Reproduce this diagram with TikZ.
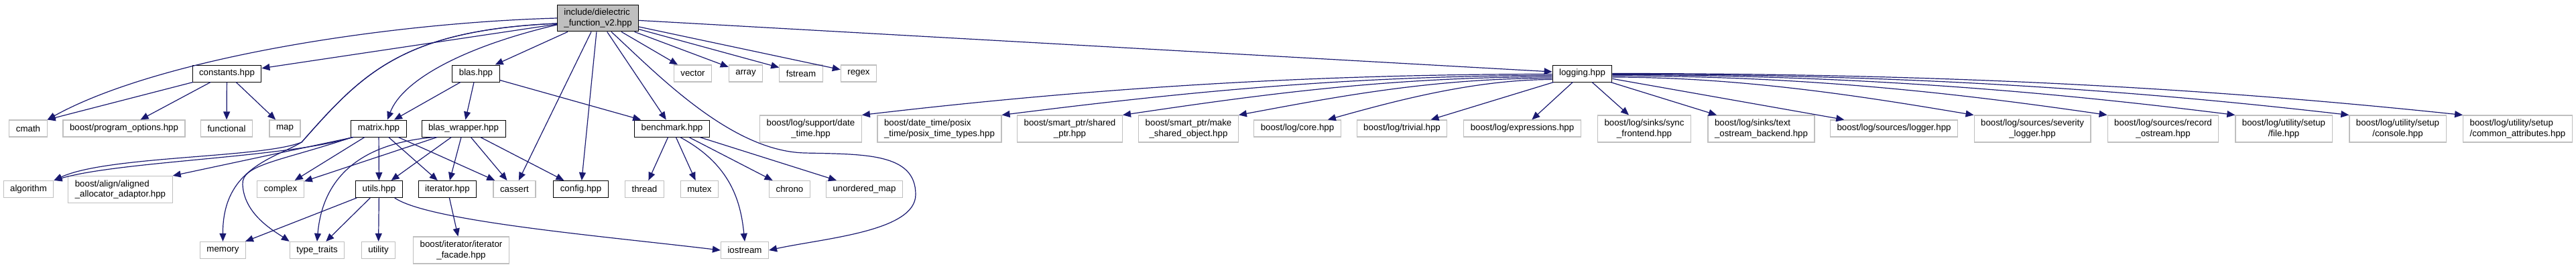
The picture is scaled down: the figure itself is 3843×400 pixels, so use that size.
\documentclass[tikz,border=0pt]{standalone}
\usepackage{fontspec}
\setmainfont{Liberation Sans}
\usepackage{tikz}
\usetikzlibrary{arrows.meta}
\definecolor{edgeblue}{HTML}{191970}
\definecolor{grey75}{HTML}{BFBFBF}

\begin{document}
\begin{tikzpicture}[
  x=1pt, y=-1pt,
  every node/.style={font=\fontsize{13.3}{15.5}\selectfont, inner xsep=10pt, inner ysep=6pt, minimum height=25pt, line width=1pt, fill=white},
  box/.style={draw=black},
  sysbox/.style={draw=grey75, line width=1.2pt},
  rootbox/.style={draw=black, fill=grey75},
  arrow/.style={-{Triangle[length=12pt,width=10pt]}, edgeblue, line width=1.2pt}
]
\useasboundingbox (0,0) rectangle (3843,400);

\node[rootbox, align=left] (root) at (892,27) {include/dielectric\\\_function\_v2.hpp};

\node[box] (constants) at (338.5,109.5) {constants.hpp};
\node[box] (blas) at (710,109.5) {blas.hpp};
\node[sysbox] (vector) at (1033.5,109.5) {vector};
\node[sysbox] (array) at (1112.5,109.5) {array};
\node[sysbox] (fstream) at (1195,109.5) {fstream};
\node[sysbox] (regex) at (1281,109.5) {regex};
\node[box] (logging) at (2360.5,109.5) {logging.hpp};

\node[sysbox] (cmath) at (42,191.5) {cmath};
\node[sysbox] (progopts) at (185,191.5) {boost/program\_options.hpp};
\node[sysbox] (functional) at (338,191.5) {functional};
\node[sysbox] (map) at (425,191.5) {map};
\node[box] (matrix) at (565,191.5) {matrix.hpp};
\node[box] (blaswrap) at (691.5,191.5) {blas\_wrapper.hpp};
\node[box] (benchmark) at (1002.5,191.5) {benchmark.hpp};
\node[sysbox, align=center] (datetime) at (1209.5,192) {boost/log/support/date\\\_time.hpp};
\node[sysbox, align=left] (posixtime) at (1401.5,192) {boost/date\_time/posix\\\_time/posix\_time\_types.hpp};
\node[sysbox, align=center] (sharedptr) at (1596,192) {boost/smart\_ptr/shared\\\_ptr.hpp};
\node[sysbox, align=center] (makeshared) at (1773,192) {boost/smart\_ptr/make\\\_shared\_object.hpp};
\node[sysbox] (logcore) at (1935.5,191.5) {boost/log/core.hpp};
\node[sysbox] (logtrivial) at (2091.5,191.5) {boost/log/trivial.hpp};
\node[sysbox] (logexpr) at (2271,191.5) {boost/log/expressions.hpp};
\node[sysbox, align=center] (syncfront) at (2453,192) {boost/log/sinks/sync\\\_frontend.hpp};
\node[sysbox, align=left] (textostream) at (2627.5,192) {boost/log/sinks/text\\\_ostream\_backend.hpp};
\node[sysbox] (logger) at (2825.5,191.5) {boost/log/sources/logger.hpp};
\node[sysbox, align=center] (sevlogger) at (3032,192) {boost/log/sources/severity\\\_logger.hpp};
\node[sysbox, align=center] (recostream) at (3227,192) {boost/log/sources/record\\\_ostream.hpp};
\node[sysbox, align=center] (setupfile) at (3407,192) {boost/log/utility/setup\\/file.hpp};
\node[sysbox, align=center] (setupconsole) at (3577,192) {boost/log/utility/setup\\/console.hpp};
\node[sysbox, align=left] (commonattr) at (3756,192) {boost/log/utility/setup\\/common\_attributes.hpp};

\node[sysbox] (algorithm) at (42.5,282) {algorithm};
\node[sysbox, align=left] (alignedalloc) at (179.5,282.5) {boost/align/aligned\\\_allocator\_adaptor.hpp};
\node[sysbox] (complex) at (418.5,282) {complex};
\node[box] (utils) at (565.5,282) {utils.hpp};
\node[box] (iterator) at (667.5,282) {iterator.hpp};
\node[sysbox] (cassert) at (767.5,282) {cassert};
\node[box] (config) at (866.5,282) {config.hpp};
\node[sysbox] (thread) at (961.5,282) {thread};
\node[sysbox] (mutex) at (1043.5,282) {mutex};
\node[sysbox] (chrono) at (1178,282) {chrono};
\node[sysbox] (unorderedmap) at (1289.5,282) {unordered\_map};

\node[sysbox] (memory) at (332.5,373) {memory};
\node[sysbox] (typetraits) at (473,373) {type\_traits};
\node[sysbox] (utility) at (564.5,373) {utility};
\node[sysbox, align=center] (iterfacade) at (688,373) {boost/iterator/iterator\\\_facade.hpp};
\node[sysbox] (iostream) at (1111,373) {iostream};

\draw[arrow] (root.west) .. controls (560,35) and (230,90) .. (cmath.north east);
\draw[arrow] (root) -- (constants);
\draw[arrow] ([yshift=-8pt]root.west) .. controls (600,45) and (540,110) .. (450,212) .. controls (410,236) and (332,250) .. (memory.north);
\draw[arrow] ([yshift=-8pt]root.west) .. controls (600,45) and (540,110) .. (450,212) .. controls (390,236) and (160,232) .. (algorithm.north east);
\draw[arrow] ([yshift=-10pt]root.west) .. controls (690,70) and (600,120) .. ([xshift=13pt]matrix.north);
\draw[arrow] (root) -- (blas);
\draw[arrow] (root) -- (cassert);
\draw[arrow] (root) -- (config);
\draw[arrow] (root) -- (benchmark);
\draw[arrow] ([xshift=20pt]root.south) .. controls (980,110) and (1090,225) .. (1200,228) .. controls (1290,230) and (1366,228) .. (1366,290) .. controls (1366,345) and (1230,355) .. (iostream.east);
\draw[arrow] (root) -- (vector);
\draw[arrow] (root) -- (array);
\draw[arrow] (root) -- (fstream);
\draw[arrow] (root) -- (regex);
\draw[arrow] (root) -- (logging);

\draw[arrow] (constants) -- (cmath.north east);
\draw[arrow] (constants) -- (progopts);
\draw[arrow] (constants) -- (functional);
\draw[arrow] (constants) -- (map);

\draw[arrow] (blas) -- (matrix);
\draw[arrow] (blas) -- (blaswrap);
\draw[arrow] (blas) -- (benchmark);

\draw[arrow] ([xshift=3pt]matrix.south west) .. controls (430,235) and (180,240) .. (algorithm.north east);
\draw[arrow] ([xshift=4pt]matrix.south west) -- (alignedalloc.north east);
\draw[arrow] (matrix) -- (complex);
\draw[arrow] ([xshift=2pt]matrix.south west) .. controls (420,240) and (360,245) .. (362,275) .. controls (364,320) and (410,345) .. (typetraits.north west);
\draw[arrow] (matrix) -- (utils);
\draw[arrow] (matrix) -- (iterator);
\draw[arrow] (matrix) -- (cassert);

\draw[arrow] (blaswrap) -- (complex);
\draw[arrow] ([xshift=20pt]blaswrap.south west) .. controls (520,215) and (480,280) .. (typetraits.north);
\draw[arrow] (blaswrap) -- (utils);
\draw[arrow] (blaswrap) -- (iterator);
\draw[arrow] (blaswrap) -- (cassert);
\draw[arrow] (blaswrap) -- (config);

\draw[arrow] (utils) -- (memory);
\draw[arrow] (utils) -- (typetraits);
\draw[arrow] (utils) -- (utility);
\draw[arrow] ([xshift=-12pt]utils.south east) .. controls (640,330) and (900,352) .. (iostream.west);
\draw[arrow] (iterator) -- (iterfacade);

\draw[arrow] (benchmark) -- (thread);
\draw[arrow] (benchmark) -- (mutex);
\draw[arrow] ([xshift=12pt]benchmark.south) .. controls (1090,245) and (1105,300) .. (iostream.north);
\draw[arrow] (benchmark) -- (chrono);
\draw[arrow] (benchmark) -- (unorderedmap);

\draw[arrow] ([yshift=-1pt]logging.west) .. controls +(-400,0) and +(300,-35) .. (datetime.north east);
\draw[arrow] ([yshift=-3pt]logging.west) .. controls +(-320,0) and +(240,-30) .. (posixtime.north east);
\draw[arrow] ([yshift=-5pt]logging.west) .. controls +(-250,0) and +(190,-28) .. (sharedptr.north east);
\draw[arrow] ([yshift=-7pt]logging.west) .. controls +(-180,0) and +(140,-26) .. (makeshared.north east);
\draw[arrow] ([yshift=-9pt]logging.west) .. controls +(-120,0) and +(90,-25) .. ([xshift=-20pt]logcore.north east);
\draw[arrow] (logging) -- (logtrivial);
\draw[arrow] (logging) -- (logexpr);
\draw[arrow] (logging) -- (syncfront);
\draw[arrow] (logging) -- (textostream);
\draw[arrow] (logging) -- (logger);
\draw[arrow] ([yshift=-5.5pt]logging.east) .. controls +(200,0) and +(-150,-25) .. (sevlogger.north west);
\draw[arrow] ([yshift=-3.5pt]logging.east) .. controls +(290,0) and +(-220,-32) .. (recostream.north west);
\draw[arrow] ([yshift=-2pt]logging.east) .. controls +(360,0) and +(-280,-35) .. (setupfile.north west);
\draw[arrow] ([yshift=-1pt]logging.east) .. controls +(430,0) and +(-330,-38) .. (setupconsole.north west);
\draw[arrow] (logging.east) .. controls +(500,0) and +(-380,-40) .. (commonattr.north west);
\end{tikzpicture}
\end{document}
